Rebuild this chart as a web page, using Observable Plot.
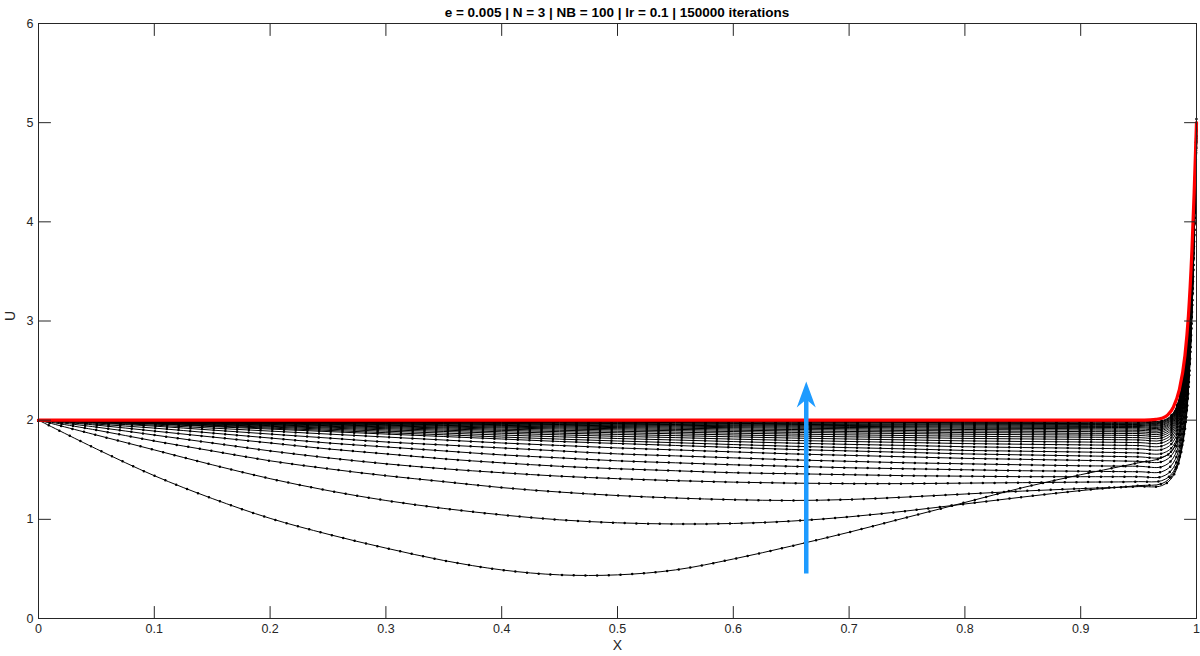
<!DOCTYPE html>
<html><head><meta charset="utf-8">
<script src="https://cdn.jsdelivr.net/npm/d3@7"></script>
<script src="https://cdn.jsdelivr.net/npm/@observablehq/plot@0.6"></script>
<style>
body{margin:0;background:#fff;font-family:"Liberation Sans",Arial,sans-serif;}
#title{width:1200px;height:22px;line-height:26px;font-weight:bold;font-size:13.5px;color:#000;text-align:center;padding-left:38px;padding-right:4px;box-sizing:border-box;white-space:nowrap;}
</style></head><body>
<div id="title"></div>
<div id="chart"></div>
<script>
const titleText = "e = 0.005 | N = 3 | NB = 100 | lr = 0.1 | 150000 iterations";
const xLabel = "X";
const yLabel = "U";
const xTicks = [0, 0.1, 0.2, 0.3, 0.4, 0.5, 0.6, 0.7, 0.8, 0.9, 1];
const xTickLabels = ["0", "0.1", "0.2", "0.3", "0.4", "0.5", "0.6", "0.7", "0.8", "0.9", "1"];
const yTicks = [0, 1, 2, 3, 4, 5, 6];
const yTickLabels = ["0", "1", "2", "3", "4", "5", "6"];

const gridX = [0, 0.05, 0.1, 0.15, 0.2, 0.25, 0.3, 0.35, 0.4, 0.45, 0.5, 0.55, 0.6, 0.65, 0.7, 0.75, 0.8, 0.85, 0.9, 0.95, 0.97, 0.98, 0.99, 1];

// intermediate iterations (black), earliest first
const blackCurves = [
  [2.00, 1.71, 1.44, 1.21, 1.01, 0.85, 0.71, 0.585, 0.49, 0.44, 0.44, 0.49, 0.60, 0.73, 0.87, 1.02, 1.17, 1.32, 1.45, 1.57, 1.62, 1.71, 2.30, 5.06],
  [2.00, 1.85, 1.70, 1.55, 1.41, 1.29, 1.19, 1.11, 1.045, 0.995, 0.965, 0.953, 0.958, 0.982, 1.025, 1.085, 1.155, 1.225, 1.29, 1.34, 1.36, 1.46, 1.92, 5.03],
  [2.00, 1.90, 1.79, 1.69, 1.59, 1.51, 1.44, 1.38, 1.32, 1.275, 1.24, 1.215, 1.198, 1.19, 1.20, 1.225, 1.255, 1.285, 1.31, 1.33, 1.34, 1.44, 1.90, 5.00],
  [2.00, 1.93, 1.85, 1.77, 1.69, 1.62, 1.56, 1.51, 1.47, 1.435, 1.41, 1.39, 1.375, 1.365, 1.36, 1.36, 1.365, 1.37, 1.375, 1.38, 1.39, 1.48, 1.94, 5.00],
  [2.00, 1.95, 1.89, 1.83, 1.77, 1.71, 1.66, 1.61, 1.57, 1.535, 1.51, 1.49, 1.47, 1.46, 1.45, 1.44, 1.435, 1.43, 1.43, 1.43, 1.43, 1.52, 1.98, 5.00],
  [2.00, 1.96, 1.92, 1.87, 1.82, 1.77, 1.73, 1.69, 1.65, 1.62, 1.59, 1.57, 1.55, 1.535, 1.52, 1.51, 1.50, 1.49, 1.485, 1.48, 1.48, 1.57, 2.03, 5.00],
  [2.00, 1.97, 1.94, 1.90, 1.86, 1.82, 1.78, 1.75, 1.72, 1.69, 1.66, 1.64, 1.62, 1.60, 1.585, 1.57, 1.56, 1.55, 1.54, 1.535, 1.53, 1.62, 2.08, 5.00],
  [2.00, 1.975, 1.95, 1.92, 1.89, 1.86, 1.83, 1.80, 1.77, 1.745, 1.72, 1.70, 1.68, 1.66, 1.645, 1.63, 1.615, 1.605, 1.595, 1.585, 1.58, 1.67, 2.13, 5.00],
  [2.00, 1.98, 1.96, 1.935, 1.91, 1.885, 1.86, 1.835, 1.81, 1.785, 1.765, 1.745, 1.725, 1.705, 1.69, 1.675, 1.66, 1.65, 1.64, 1.63, 1.625, 1.71, 2.17, 5.00],
  [2, 1.981, 1.964, 1.941, 1.920, 1.897, 1.874, 1.853, 1.830, 1.809, 1.790, 1.773, 1.754, 1.737, 1.723, 1.710, 1.695, 1.687, 1.679, 1.670, 1.664, 1.744, 2.214, 5],
  [2, 1.983, 1.969, 1.948, 1.930, 1.909, 1.889, 1.870, 1.850, 1.832, 1.815, 1.800, 1.784, 1.769, 1.756, 1.745, 1.732, 1.724, 1.717, 1.710, 1.704, 1.784, 2.254, 5],
  [2, 1.985, 1.972, 1.954, 1.938, 1.920, 1.902, 1.886, 1.868, 1.852, 1.837, 1.824, 1.809, 1.796, 1.785, 1.775, 1.764, 1.757, 1.751, 1.744, 1.739, 1.819, 2.289, 5],
  [2, 1.987, 1.976, 1.960, 1.945, 1.929, 1.914, 1.899, 1.883, 1.869, 1.856, 1.844, 1.832, 1.820, 1.810, 1.801, 1.791, 1.785, 1.780, 1.774, 1.770, 1.850, 2.320, 5],
  [2, 1.989, 1.978, 1.964, 1.952, 1.938, 1.924, 1.911, 1.897, 1.884, 1.873, 1.863, 1.851, 1.841, 1.832, 1.825, 1.816, 1.811, 1.806, 1.801, 1.797, 1.877, 2.347, 5],
  [2, 1.990, 1.981, 1.969, 1.957, 1.945, 1.933, 1.922, 1.909, 1.898, 1.888, 1.879, 1.869, 1.860, 1.852, 1.845, 1.838, 1.833, 1.829, 1.824, 1.821, 1.901, 2.371, 5],
  [2, 1.991, 1.983, 1.973, 1.963, 1.952, 1.941, 1.931, 1.921, 1.911, 1.902, 1.894, 1.885, 1.877, 1.871, 1.865, 1.858, 1.854, 1.850, 1.846, 1.843, 1.923, 2.393, 5],
  [2, 1.992, 1.985, 1.976, 1.967, 1.958, 1.948, 1.940, 1.930, 1.922, 1.914, 1.907, 1.899, 1.892, 1.886, 1.881, 1.875, 1.872, 1.868, 1.865, 1.862, 1.942, 2.412, 5],
  [2, 1.993, 1.987, 1.979, 1.971, 1.963, 1.955, 1.947, 1.939, 1.932, 1.925, 1.919, 1.912, 1.906, 1.901, 1.896, 1.891, 1.888, 1.885, 1.882, 1.880, 1.960, 2.430, 5],
  [2, 1.994, 1.989, 1.982, 1.975, 1.968, 1.961, 1.954, 1.947, 1.941, 1.935, 1.930, 1.924, 1.919, 1.914, 1.910, 1.906, 1.903, 1.901, 1.898, 1.896, 1.976, 2.446, 5],
  [2, 1.995, 1.990, 1.984, 1.979, 1.973, 1.966, 1.961, 1.955, 1.949, 1.944, 1.940, 1.934, 1.930, 1.926, 1.923, 1.919, 1.917, 1.914, 1.912, 1.910, 1.990, 2.460, 5],
  [2, 1.996, 1.992, 1.987, 1.982, 1.976, 1.971, 1.966, 1.961, 1.956, 1.952, 1.948, 1.944, 1.940, 1.937, 1.934, 1.930, 1.928, 1.927, 1.925, 1.923, 2.003, 2.473, 5],
  [2, 1.996, 1.993, 1.989, 1.984, 1.980, 1.975, 1.971, 1.967, 1.963, 1.959, 1.956, 1.952, 1.949, 1.946, 1.943, 1.941, 1.939, 1.937, 1.936, 1.934, 2.014, 2.484, 5],
  [2, 1.997, 1.994, 1.990, 1.987, 1.983, 1.980, 1.976, 1.972, 1.969, 1.966, 1.963, 1.960, 1.957, 1.955, 1.953, 1.951, 1.949, 1.948, 1.947, 1.946, 2.026, 2.496, 5],
  [2, 1.997, 1.995, 1.992, 1.989, 1.986, 1.983, 1.980, 1.977, 1.975, 1.972, 1.970, 1.967, 1.965, 1.963, 1.961, 1.959, 1.958, 1.957, 1.956, 1.955, 2.035, 2.505, 5],
  [2, 1.998, 1.996, 1.994, 1.992, 1.989, 1.987, 1.985, 1.982, 1.980, 1.978, 1.976, 1.974, 1.972, 1.971, 1.970, 1.968, 1.967, 1.966, 1.965, 1.965, 2.045, 2.515, 5],
  [2, 1.998, 1.997, 1.995, 1.994, 1.992, 1.990, 1.988, 1.986, 1.985, 1.983, 1.982, 1.980, 1.979, 1.978, 1.977, 1.975, 1.975, 1.974, 1.973, 1.973, 2.053, 2.523, 5],
  [2, 1.999, 1.998, 1.997, 1.995, 1.994, 1.993, 1.992, 1.990, 1.989, 1.988, 1.987, 1.986, 1.985, 1.984, 1.983, 1.983, 1.982, 1.982, 1.981, 1.981, 2.061, 2.531, 5],
  [2, 1.999, 1.999, 1.998, 1.997, 1.996, 1.995, 1.994, 1.994, 1.993, 1.992, 1.991, 1.991, 1.990, 1.989, 1.989, 1.988, 1.988, 1.988, 1.987, 1.987, 2.067, 2.537, 5],
  [2, 2.000, 1.999, 1.999, 1.998, 1.998, 1.998, 1.997, 1.997, 1.996, 1.996, 1.996, 1.995, 1.995, 1.995, 1.994, 1.994, 1.994, 1.994, 1.994, 1.994, 2.074, 2.544, 5]
];

// final solution (red)
const redX = [0, 0.2, 0.4, 0.6, 0.8, 0.9, 0.95, 0.96, 0.965, 0.97, 0.975, 0.98, 0.985, 0.99, 0.993, 0.996, 0.998, 1.0];
const redU = [2.0, 2.0, 2.0, 2.0, 2.0, 2.0, 2.0, 2.003, 2.008, 2.02, 2.05, 2.13, 2.3, 2.65, 3.05, 3.7, 4.3, 5.0];

// annotation arrow (data units)
const arrowX = [0.663];
const arrowU = [0.454, 2.25, 2.39]; // tail, shaft end, tip

document.getElementById("title").textContent = titleText;

const rows = [];
blackCurves.forEach((c, k) => c.forEach((u, i) => rows.push({x: gridX[i], u, k})));
const red = redX.map((x, i) => ({x, u: redU[i]}));

const blue = "#1e9bff";
const arrowHead = {
  draw(ctx) {
    ctx.moveTo(0, 0);
    ctx.lineTo(9.5, 26);
    ctx.lineTo(0, 18);
    ctx.lineTo(-9.5, 26);
    ctx.closePath();
  }
};
const tickShape = {draw(ctx, l) { ctx.moveTo(0, 0); ctx.lineTo(0, -l); }};
const axisColor = "#262626";
const xMin = 0, xMax = 1, yMin = 0, yMax = 6;
const tickOpts = {length: 12, anchor: "start", shape: tickShape, stroke: axisColor, strokeWidth: 1};

const chart = Plot.plot({
  width: 1200,
  height: 634,
  marginTop: 1,
  marginBottom: 38,
  marginLeft: 38,
  marginRight: 4,
  style: {fontFamily: "'Liberation Sans', Arial, sans-serif", fontSize: "12.5px", color: axisColor, background: "white", overflow: "visible"},
  x: {domain: [xMin, xMax]},
  y: {domain: [yMin, yMax]},
  marks: [
    Plot.line(rows, {x: "x", y: "u", z: "k", stroke: "#000", strokeWidth: 1, curve: "catmull-rom"}),
    Plot.line(rows, {x: "x", y: "u", z: "k", stroke: "#000", strokeWidth: 2.5, strokeDasharray: "0 11.7", strokeLinecap: "round", curve: "catmull-rom"}),
    Plot.line(red, {x: "x", y: "u", stroke: "#ff0000", strokeWidth: 3.2, curve: "monotone-x"}),
    Plot.link(arrowX, {x1: d => d, x2: d => d, y1: () => arrowU[0], y2: () => arrowU[1], stroke: blue, strokeWidth: 4.5}),
    Plot.dot(arrowX, {x: d => d, y: () => arrowU[2], symbol: arrowHead, fill: blue, stroke: "none", r: 10}),
    Plot.frame({stroke: axisColor}),
    Plot.vector(xTicks, {x: d => d, y: () => yMin, rotate: 0, ...tickOpts}),
    Plot.vector(xTicks, {x: d => d, y: () => yMax, rotate: 180, ...tickOpts}),
    Plot.vector(yTicks, {x: () => xMin, y: d => d, rotate: 90, ...tickOpts}),
    Plot.vector(yTicks, {x: () => xMax, y: d => d, rotate: 270, ...tickOpts}),
    Plot.axisX({ticks: xTicks, tickFormat: (d, i) => xTickLabels[i], tickSize: 0, tickPadding: 6, label: null}),
    Plot.axisY({ticks: yTicks, tickFormat: (d, i) => yTickLabels[i], tickSize: 0, tickPadding: 5, label: null}),
    Plot.text([xLabel], {frameAnchor: "bottom", dy: 31, fontSize: 14, fill: axisColor}),
    Plot.text([yLabel], {frameAnchor: "left", dx: -28, rotate: -90, fontSize: 14, fill: axisColor})
  ]
});
document.getElementById("chart").appendChild(chart);
</script>
</body></html>
